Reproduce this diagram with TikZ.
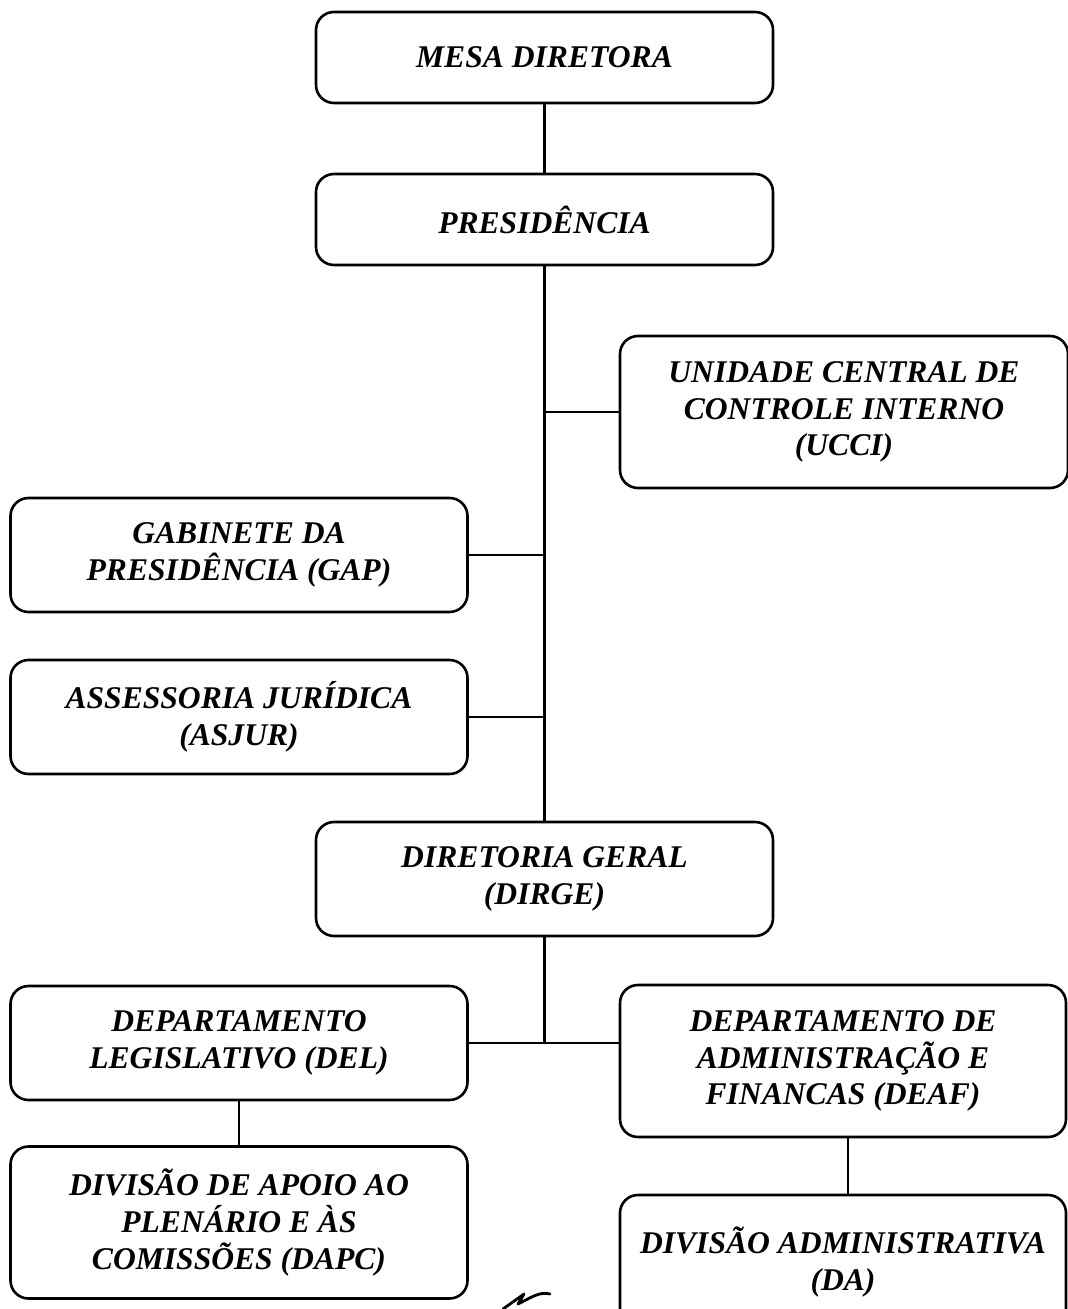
\documentclass[tikz,border=0pt]{standalone}
\usepackage{fontspec}
\setmainfont{Liberation Serif}
\usepackage{tikz}
\usetikzlibrary{calc}

\tikzset{
  orgbox/.style={draw, line width=1.3pt, rounded corners=9pt, align=center,
    inner sep=0pt, minimum width=228.5pt, minimum height=45.5pt,
    font=\fontsize{15.8}{18.4}\selectfont\bfseries\itshape},
  midbox/.style={orgbox, minimum height=57pt},
  tallbox/.style={orgbox, minimum height=76pt},
  link/.style={line width=1.1pt}
}

\begin{document}
\begin{tikzpicture}[x=0.5pt,y=-0.5pt]
\useasboundingbox (0,0) rectangle (1068,1309);

% top of the chart
\node[orgbox] (mesa) at (544.5,57.5) {MESA DIRETORA};
\node[orgbox] (pres) at (544.5,219.5) {PRESIDÊNCIA};

% staff units
\node[tallbox,minimum width=224pt] (ucci) at (844,412) {UNIDADE CENTRAL DE\\CONTROLE INTERNO\\(UCCI)};
\node[midbox] (gap) at (239,555) {GABINETE DA\\PRESIDÊNCIA (GAP)};
\node[midbox] (asjur) at (239,717) {ASSESSORIA JURÍDICA\\(ASJUR)};

% general board
\node[midbox] (dirge) at (544.5,879) {DIRETORIA GERAL\\(DIRGE)};

% departments
\node[midbox] (del) at (239,1043) {DEPARTAMENTO\\LEGISLATIVO (DEL)};
\node[tallbox,minimum width=223pt] (deaf) at (843,1061) {DEPARTAMENTO DE\\ADMINISTRAÇÃO E\\FINANCAS (DEAF)};
\node[tallbox] (dapc) at (239,1222.5) {DIVISÃO DE APOIO AO\\PLENÁRIO E ÀS\\COMISSÕES (DAPC)};
\node[orgbox,minimum width=223pt,minimum height=67pt] (da) at (843,1262) {DIVISÃO ADMINISTRATIVA\\(DA)};

% trunk
\draw[link] (mesa) -- (pres);
\draw[link] (pres) -- (dirge);
\draw[link] (dirge) -- (dirge.south |- del.east);

% branches
\draw[link] (ucci.west) -- (ucci.west -| pres.south);
\draw[link] (gap.east) -- (gap.east -| pres.south);
\draw[link] (asjur.east) -- (asjur.east -| pres.south);
\draw[link] (del.east) -- (del.east -| deaf.west);
\draw[link] (del) -- (dapc);
\draw[link] ($(deaf.south)+(5,0)$) -- ($(da.north)+(5,0)$);

% scribble
\draw[line width=1.4pt,line cap=round,line join=round] (503,1309) -- (524,1294) -- (518,1304) .. controls (530,1298) and (540,1291) .. (550,1294);
\end{tikzpicture}
\end{document}
